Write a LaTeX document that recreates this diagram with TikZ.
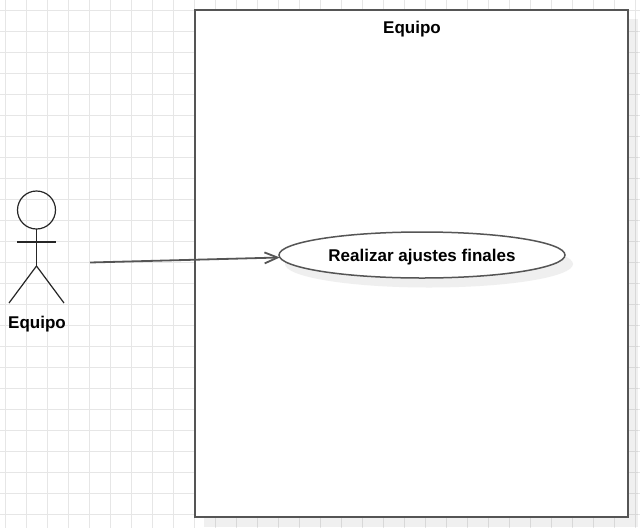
\documentclass[tikz,border=0pt]{standalone}
\usepackage{fontspec}
\setmainfont{Liberation Sans}
\usetikzlibrary{shapes.geometric,arrows.meta}
\definecolor{gridline}{HTML}{E6E6E6}
\definecolor{frameline}{HTML}{555555}
\definecolor{sombra}{HTML}{EFEFEF}
\tikzset{
  umllabel/.style={font=\fontsize{17pt}{20pt}\selectfont\bfseries,text=black},
  limb/.style={draw=black!85,line width=1.2pt},
}
\begin{document}
\begin{tikzpicture}[x=1pt,y=-1pt]
  \useasboundingbox (0,0) rectangle (640,528);
  \fill[white] (0,0) rectangle (640,528);
  % paper grid
  \foreach \i in {0,...,30}{
    \draw[gridline,line width=1pt] (5+21.03*\i,0) -- (5+21.03*\i,528);
  }
  \foreach \j in {0,...,24}{
    \draw[gridline,line width=1pt] (0,10+21.03*\j) -- (640,10+21.03*\j);
  }
  % system boundary
  \fill[black,opacity=0.06] (204,19) rectangle (638,527);
  \node[draw=frameline,fill=white,line width=2pt,outer sep=0pt,minimum width=433pt,minimum height=507pt,inner sep=0pt,anchor=north west] (sistema) at (195,10) {};
  \node[umllabel] (sistematitulo) at (412,29.5) {Equipo};
  % use case
  \fill[sombra] (429,264) ellipse [x radius=144,y radius=23.5];
  \node[draw=frameline,fill=white,ellipse,line width=1.5pt,outer sep=0pt,minimum width=286pt,minimum height=46pt,inner sep=0pt] (ajustes) at (422,255) {};
  \node[umllabel] (ajustestexto) at (422,257.5) {Realizar ajustes finales};
  % actor
  \node[draw=black!85,circle,line width=1.2pt,outer sep=0pt,minimum size=38pt,inner sep=0pt] (cabeza) at (36.5,210) {};
  \coordinate (cadera) at (36.5,266);
  \coordinate (hombroi) at (17,242);
  \coordinate (hombrod) at (56,242);
  \coordinate (piei) at (9,303);
  \coordinate (pied) at (64,303);
  \draw[limb] (cabeza.south) -- (cadera);
  \draw[limb] (hombroi) -- (hombrod);
  \draw[limb] (piei) -- (cadera) -- (pied);
  \node[umllabel] (actor) at (37,324) {Equipo};
  % association
  \coordinate (salida) at (90,262.5);
  \draw[-{Straight Barb[length=13pt,width=11pt]},frameline,line width=1.8pt] (salida) -- (ajustes.181.2);
\end{tikzpicture}
\end{document}
